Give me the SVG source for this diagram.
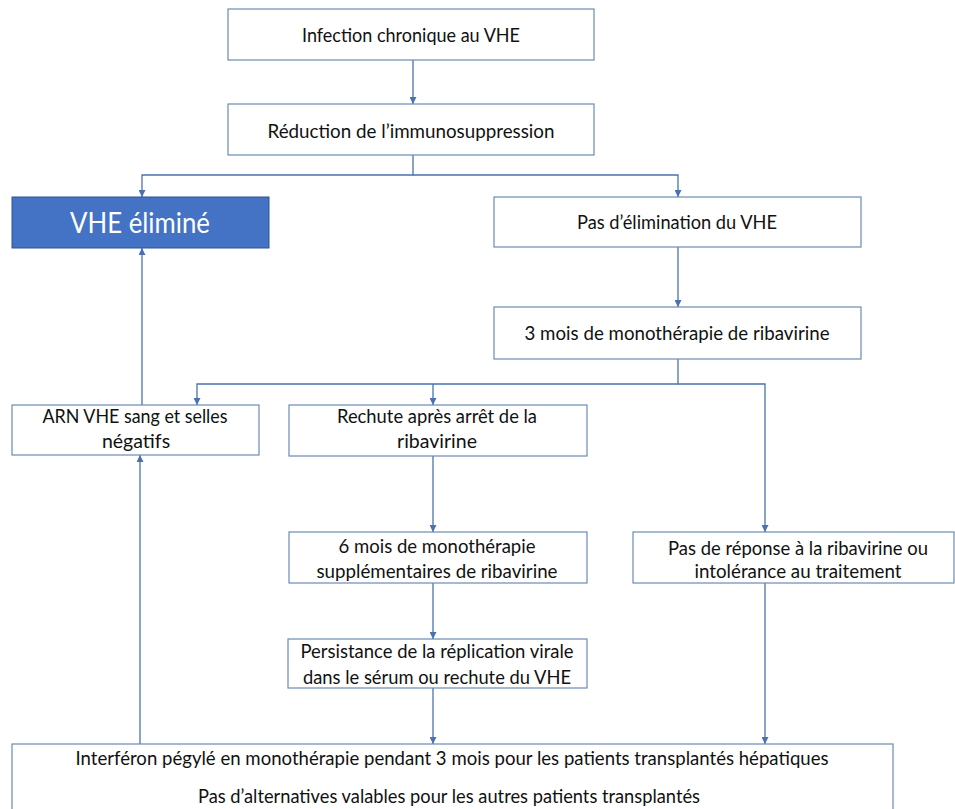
<svg xmlns="http://www.w3.org/2000/svg" width="955" height="809" viewBox="0 0 955 809">
<style>
.box{fill:#ffffff;stroke:#6A8DB5;stroke-width:1.2}
.hl{fill:#4472C4;stroke:#2F5597;stroke-width:1}
.t{font-family:Lato,"Liberation Sans",sans-serif;font-size:19.5px;fill:#111111;text-anchor:middle}
.w{font-family:Lato,"Liberation Sans",sans-serif;font-size:28px;fill:#ffffff;text-anchor:middle}
.c{fill:none;stroke:#4A72B0;stroke-width:1.3}
</style>
<defs>
<marker id="ah" viewBox="0 0 10 10" refX="10" refY="5" markerWidth="7" markerHeight="7" markerUnits="userSpaceOnUse" orient="auto">
<path d="M0,0 L10,5 L0,10 z" fill="#4A72B0"/>
</marker>
</defs>
<rect width="955" height="809" fill="#ffffff"/>
<g id="connectors">
<path class="c" d="M413,60 V104" marker-end="url(#ah)"/>
<path class="c" d="M413,155 V175 H142 V197" marker-end="url(#ah)"/>
<path class="c" d="M413,175 H678 V197" marker-end="url(#ah)"/>
<path class="c" d="M678,247 V307" marker-end="url(#ah)"/>
<path class="c" d="M678,359 V384 H197 V405" marker-end="url(#ah)"/>
<path class="c" d="M433,384 V405" marker-end="url(#ah)"/>
<path class="c" d="M678,384 H765 V532" marker-end="url(#ah)"/>
<path class="c" d="M433,456 V532" marker-end="url(#ah)"/>
<path class="c" d="M433,583 V639" marker-end="url(#ah)"/>
<path class="c" d="M433,688 V744" marker-end="url(#ah)"/>
<path class="c" d="M765,583 V744" marker-end="url(#ah)"/>
<path class="c" d="M140,744 V455" marker-end="url(#ah)"/>
<path class="c" d="M142,405 V248" marker-end="url(#ah)"/>
</g>
<g id="n1">
<rect class="box" x="228" y="9" width="366" height="51"/>
<text class="t" x="411" y="42" textLength="218" lengthAdjust="spacingAndGlyphs">Infection chronique au VHE</text>
</g>
<g id="n2">
<rect class="box" x="228" y="104" width="366" height="51"/>
<text class="t" x="411" y="138" textLength="287" lengthAdjust="spacingAndGlyphs">Réduction de l’immunosuppression</text>
</g>
<g id="n3">
<rect class="hl" x="12" y="197" width="257" height="51"/>
<text class="w" x="140" y="233" textLength="140" lengthAdjust="spacingAndGlyphs">VHE éliminé</text>
</g>
<g id="n4">
<rect class="box" x="494" y="197" width="367" height="50"/>
<text class="t" x="677" y="229" textLength="200" lengthAdjust="spacingAndGlyphs">Pas d’élimination du VHE</text>
</g>
<g id="n5">
<rect class="box" x="494" y="307" width="367" height="52"/>
<text class="t" x="677" y="340" textLength="305" lengthAdjust="spacingAndGlyphs">3 mois de monothérapie de ribavirine</text>
</g>
<g id="n6">
<rect class="box" x="12" y="405" width="247" height="50"/>
<text class="t" x="135" y="423" textLength="185" lengthAdjust="spacingAndGlyphs">ARN VHE sang et selles</text>
<text class="t" x="136" y="448">négatifs</text>
</g>
<g id="n7">
<rect class="box" x="289" y="405" width="298" height="51"/>
<text class="t" x="437" y="423" textLength="200" lengthAdjust="spacingAndGlyphs">Rechute après arrêt de la</text>
<text class="t" x="437" y="448">ribavirine</text>
</g>
<g id="n8">
<rect class="box" x="289" y="532" width="298" height="51"/>
<text class="t" x="437" y="553" textLength="197" lengthAdjust="spacingAndGlyphs">6 mois de monothérapie</text>
<text class="t" x="437" y="578" textLength="241" lengthAdjust="spacingAndGlyphs">supplémentaires de ribavirine</text>
</g>
<g id="n9">
<rect class="box" x="633" y="532" width="321" height="51"/>
<text class="t" x="798" y="555" textLength="260" lengthAdjust="spacingAndGlyphs">Pas de réponse à la ribavirine ou</text>
<text class="t" x="798" y="578" textLength="207" lengthAdjust="spacingAndGlyphs">intolérance au traitement</text>
</g>
<g id="n10">
<rect class="box" x="288" y="639" width="299" height="49"/>
<text class="t" x="437" y="658" textLength="273" lengthAdjust="spacingAndGlyphs">Persistance de la réplication virale</text>
<text class="t" x="437" y="684" textLength="268" lengthAdjust="spacingAndGlyphs">dans le sérum ou rechute du VHE</text>
</g>
<g id="n11">
<rect class="box" x="12" y="744" width="881" height="80"/>
<text class="t" x="452" y="765" textLength="753" lengthAdjust="spacingAndGlyphs">Interféron pégylé en monothérapie pendant 3 mois pour les patients transplantés hépatiques</text>
<text class="t" x="449" y="803" textLength="502" lengthAdjust="spacingAndGlyphs">Pas d’alternatives valables pour les autres patients transplantés</text>
</g>
</svg>
